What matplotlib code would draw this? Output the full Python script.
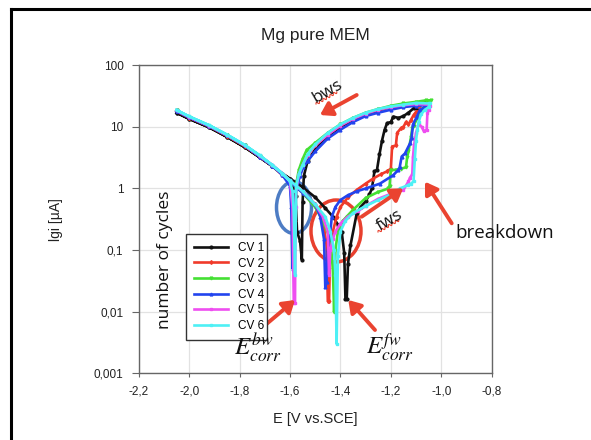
import numpy as np
import matplotlib
matplotlib.use('Agg')
import matplotlib.pyplot as plt
from matplotlib.patches import Ellipse
from matplotlib.lines import Line2D
from matplotlib.ticker import FixedLocator, FuncFormatter

plt.rcParams['font.family'] = ['Liberation Sans', 'DejaVu Sans']
plt.rcParams['mathtext.fontset'] = 'stix'

# potential [V vs. SCE] and |i| [uA], forward sweep then backward sweep
E_cv1 = [-2.05, -2.00, -1.92, -1.85, -1.78, -1.72, -1.67, -1.63, -1.60, -1.55, -1.50, -1.46, -1.43, -1.41,
         -1.395, -1.385, -1.38, -1.375, -1.37, -1.36, -1.335, -1.32, -1.30, -1.285, -1.275, -1.265, -1.255,
         -1.245, -1.235, -1.225, -1.215, -1.20, -1.19, -1.17, -1.15, -1.13, -1.11, -1.09, -1.07, -1.05,
         -1.06, -1.10, -1.15, -1.20, -1.25, -1.30, -1.35, -1.40, -1.45, -1.50, -1.53, -1.545, -1.55, -1.553,
         -1.56, -1.572, -1.578, -1.585, -1.60, -1.63, -1.67, -1.72, -1.78, -1.85, -1.92, -2.00, -2.05]
i_cv1 = [17, 13.5, 9.8, 6.9, 4.7, 3.2, 2.3, 1.75, 1.45, 1.05, 0.72, 0.48, 0.35, 0.26,
         0.2, 0.09, 0.016, 0.016, 0.06, 0.12, 0.4, 0.5, 0.62, 0.8, 1.0, 1.9, 2.0,
         3.6, 6.0, 8.9, 11.5, 12, 14.7, 14, 15, 17, 20, 19, 20, 23,
         25, 24.5, 23, 21, 18.5, 16, 13, 10, 7, 4.3, 2.8, 1.6, 0.6, 0.07,
         0.14, 0.2, 0.75, 1.0, 1.4, 1.75, 2.3, 3.2, 4.7, 6.9, 9.8, 13.5, 17]

E_cv2 = [-2.05, -2.00, -1.92, -1.85, -1.78, -1.72, -1.67, -1.63, -1.60, -1.55, -1.50, -1.47, -1.455, -1.45,
         -1.445, -1.44, -1.43, -1.415, -1.40, -1.37, -1.335, -1.30, -1.27, -1.24, -1.215, -1.20, -1.195,
         -1.18, -1.175, -1.16, -1.15, -1.14, -1.13, -1.12, -1.11, -1.10, -1.08,
         -1.09, -1.10, -1.15, -1.20, -1.25, -1.30, -1.35, -1.40, -1.45, -1.50, -1.53, -1.55, -1.565,
         -1.575, -1.58, -1.585, -1.59, -1.60, -1.63, -1.67, -1.72, -1.78, -1.85, -1.92, -2.00, -2.05]
i_cv2 = [18, 14.2, 10.2, 7.2, 4.9, 3.3, 2.35, 1.7, 1.3, 0.88, 0.55, 0.32, 0.12, 0.015,
         0.015, 0.12, 0.2, 0.35, 0.5, 0.72, 0.95, 1.2, 1.45, 1.7, 1.9, 2.1, 4.8,
         5.0, 8.0, 9.5, 10, 12, 11, 13, 15.5, 17.5, 18.5,
         22, 23, 22.5, 21, 19, 16.5, 13.5, 10.5, 7.5, 5.0, 3.5, 2.4, 1.7,
         1.1, 0.3, 0.15, 0.7, 1.25, 1.65, 2.3, 3.3, 4.9, 7.2, 10.2, 14.2, 18]

E_cv3 = [-2.05, -2.00, -1.92, -1.85, -1.78, -1.72, -1.67, -1.63, -1.60, -1.55, -1.50, -1.47, -1.44, -1.43,
         -1.425, -1.42, -1.41, -1.39, -1.375, -1.35, -1.30, -1.25, -1.21, -1.205, -1.20, -1.18, -1.16,
         -1.14, -1.135, -1.13, -1.12, -1.115, -1.11, -1.09, -1.07, -1.05, -1.04,
         -1.06, -1.10, -1.15, -1.20, -1.25, -1.30, -1.35, -1.40, -1.45, -1.50, -1.534, -1.55, -1.565,
         -1.575, -1.58, -1.585, -1.59, -1.60, -1.63, -1.67, -1.72, -1.78, -1.85, -1.92, -2.00, -2.05]
i_cv3 = [18.5, 14.5, 10.4, 7.3, 5.0, 3.35, 2.35, 1.7, 1.3, 0.85, 0.5, 0.3, 0.15, 0.05,
         0.01, 0.1, 0.2, 0.3, 0.35, 0.45, 0.7, 0.88, 1.0, 1.1, 2.0, 2.0, 2.1,
         2.2, 3.3, 4.0, 6.9, 9.5, 10.5, 15, 20, 25, 27,
         27, 25.5, 24, 22, 19.5, 17, 14, 11, 8, 5.5, 4.2, 3.0, 2.0,
         1.2, 0.5, 0.25, 0.6, 1.25, 1.7, 2.35, 3.35, 5.0, 7.3, 10.4, 14.5, 18.5]

E_cv4 = [-2.05, -2.00, -1.92, -1.85, -1.78, -1.72, -1.67, -1.63, -1.60, -1.55, -1.50, -1.48, -1.465, -1.46,
         -1.455, -1.45, -1.44, -1.434, -1.42, -1.40, -1.37, -1.335, -1.30, -1.243, -1.19, -1.171, -1.165,
         -1.157, -1.144, -1.124, -1.118, -1.112, -1.097, -1.084, -1.06, -1.05,
         -1.06, -1.10, -1.15, -1.20, -1.25, -1.30, -1.35, -1.40, -1.45, -1.50, -1.53, -1.548, -1.56,
         -1.575, -1.585, -1.59, -1.595, -1.60, -1.63, -1.67, -1.72, -1.78, -1.85, -1.92, -2.00, -2.05]
i_cv4 = [18.2, 14.3, 10.3, 7.3, 5.0, 3.3, 2.35, 1.7, 1.3, 0.85, 0.55, 0.35, 0.15, 0.025,
         0.03, 0.1, 0.2, 0.35, 0.5, 0.65, 0.78, 0.9, 1.0, 1.2, 1.65, 2.0, 2.2,
         3.3, 3.7, 5.4, 6.5, 11, 14.6, 19, 21, 22,
         22.5, 22, 21, 19, 17, 15, 12, 9, 6.5, 4.0, 2.8, 2.2, 1.6,
         1.0, 0.3, 0.05, 0.5, 1.1, 1.65, 2.35, 3.3, 5.0, 7.3, 10.3, 14.3, 18.2]

E_cv5 = [-2.05, -2.00, -1.92, -1.85, -1.78, -1.72, -1.67, -1.63, -1.60, -1.55, -1.50, -1.47, -1.45, -1.445,
         -1.44, -1.43, -1.42, -1.40, -1.37, -1.33, -1.30, -1.25, -1.20, -1.15, -1.13, -1.124, -1.115,
         -1.112, -1.108, -1.10, -1.09, -1.077, -1.07, -1.058, -1.055, -1.05, -1.044,
         -1.05, -1.10, -1.15, -1.20, -1.25, -1.30, -1.35, -1.40, -1.45, -1.50, -1.53, -1.55, -1.565,
         -1.575, -1.578, -1.58, -1.585, -1.59, -1.60, -1.63, -1.67, -1.72, -1.78, -1.85, -1.92, -2.00, -2.05]
i_cv5 = [18.6, 14.6, 10.5, 7.4, 5.05, 3.4, 2.4, 1.75, 1.35, 0.9, 0.55, 0.35, 0.2, 0.04,
         0.1, 0.15, 0.2, 0.27, 0.35, 0.43, 0.52, 0.68, 0.82, 0.95, 1.3, 1.5, 1.7,
         3.3, 5.0, 8.0, 11, 10, 8.6, 8.9, 16.7, 19, 22,
         23, 23.5, 22.5, 21, 19, 16.5, 13.5, 10.5, 7.5, 5.0, 3.5, 2.4, 1.7,
         1.0, 0.5, 0.014, 0.014, 0.5, 1.3, 1.75, 2.4, 3.4, 5.05, 7.4, 10.5, 14.6, 18.6]

E_cv6 = [-2.05, -2.00, -1.92, -1.85, -1.78, -1.72, -1.67, -1.63, -1.60, -1.55, -1.50, -1.46, -1.44, -1.425,
         -1.42, -1.415, -1.41, -1.40, -1.38, -1.35, -1.30, -1.25, -1.20, -1.164, -1.131, -1.12, -1.11,
         -1.105, -1.10, -1.095, -1.09, -1.08, -1.065, -1.05, -1.045,
         -1.05, -1.10, -1.15, -1.20, -1.25, -1.30, -1.35, -1.40, -1.45, -1.50, -1.53, -1.55, -1.565,
         -1.575, -1.58, -1.585, -1.59, -1.60, -1.63, -1.67, -1.72, -1.78, -1.85, -1.92, -2.00, -2.05]
i_cv6 = [18.8, 14.8, 10.6, 7.5, 5.1, 3.45, 2.4, 1.75, 1.35, 0.9, 0.55, 0.35, 0.2, 0.1,
         0.04, 0.003, 0.08, 0.2, 0.3, 0.4, 0.52, 0.65, 0.8, 1.0, 1.14, 1.2, 1.3,
         3.0, 6.0, 9.0, 12, 16, 19, 21, 24,
         24, 24.5, 23, 21.5, 19.5, 17, 14, 11, 8, 5.2, 3.6, 2.4, 1.7,
         1.1, 0.04, 0.4, 0.9, 1.3, 1.75, 2.4, 3.45, 5.1, 7.5, 10.6, 14.8, 18.8]

labels = ['CV 1', 'CV 2', 'CV 3', 'CV 4', 'CV 5', 'CV 6']
colors = ['#111111', '#f03a2a', '#44e033', '#2244ee', '#ee4ef0', '#4ef0f5']
markers = ['o', 'd', 'v', '^', 's', 's']
x_ticks = [-2.2, -2.0, -1.8, -1.6, -1.4, -1.2, -1.0, -0.8]
y_ticks = [0.001, 0.01, 0.1, 1, 10, 100]
y_ticklabels = ['0,001', '0,01', '0,1', '1', '10', '100']

curves = [(E_cv1, i_cv1), (E_cv2, i_cv2), (E_cv3, i_cv3),
          (E_cv4, i_cv4), (E_cv5, i_cv5), (E_cv6, i_cv6)]

fig = plt.figure(figsize=(5.91, 4.40), dpi=100)
ax = fig.add_axes([138.7 / 591, 1 - 373.3 / 440, 353 / 591, 308 / 440])

for (E, i), lab, col, mk in zip(curves, labels, colors, markers):
    ax.plot(E, i, color=col, lw=1.9, marker=mk, ms=2.0, label=lab)

ax.set_yscale('log')
ax.set_xlim(-2.2, -0.8)
ax.set_ylim(0.001, 100)
ax.xaxis.set_major_locator(FixedLocator(x_ticks))
ax.xaxis.set_major_formatter(FuncFormatter(lambda v, p: ('%.1f' % v).replace('.', ',')))
ax.yaxis.set_major_locator(FixedLocator(y_ticks))
ax.yaxis.set_minor_locator(FixedLocator([]))
ax.set_yticklabels(y_ticklabels)
ax.grid(True, color='#e2e2e2', lw=0.9)
ax.set_axisbelow(True)
for s in ax.spines.values():
    s.set_color('#666666')
    s.set_linewidth(1.0)
ax.tick_params(axis='y', length=5, width=0.8, color='#666666', labelsize=8.5, labelcolor='#222222', pad=6)
ax.tick_params(axis='x', length=3, width=0.8, color='#666666', labelsize=8.5, labelcolor='#222222', pad=6)

ax.set_title('Mg pure MEM', fontsize=12.5, pad=18, color='#222222')
ax.set_xlabel('E [V vs.SCE]', fontsize=10.5, labelpad=10, color='#222222')
ax.set_ylabel('lgi [µA]', fontsize=10, labelpad=22, color='#222222')

leg = ax.legend(loc='lower left', bbox_to_anchor=(0.117, 0.089, 0.263, 0.357), mode='expand',
                fontsize=8.5, handlelength=2.9, handletextpad=0.8, labelspacing=0.3,
                borderpad=0.7, fancybox=False, framealpha=1, edgecolor='#333333')
leg.get_frame().set_linewidth(1.0)

# circles around the corrosion potentials
ax.add_patch(Ellipse(((294 - 138.7) / 353, (373.3 - 207.5) / 308), 35 / 353, 52 / 308,
                     transform=ax.transAxes, fill=False, ec='#4d7cc4', lw=2.5))
ax.add_patch(Ellipse(((336 - 138.7) / 353, (373.3 - 231) / 308), 50 / 353, 62 / 308,
                     transform=ax.transAxes, fill=False, ec='#e8402e', lw=2.5))


def fp(x, y):
    return (x / 591, 1 - y / 440)


red = '#ea4330'
arrow = dict(arrowstyle='-|>,head_width=0.45,head_length=0.7', color=red, lw=2.8, shrinkA=0, shrinkB=0)
for start, end in [((356.7, 95), (320, 115)), ((361.7, 216.7), (403.3, 188.3)),
                   ((451.7, 223.3), (425, 181.7)), ((263.3, 326.7), (295, 300)),
                   ((375, 330), (348.3, 300))]:
    ax.annotate('', xy=fp(*end), xytext=fp(*start), xycoords='figure fraction',
                textcoords='figure fraction', arrowprops=arrow)

side = ['Open Sans', 'DejaVu Sans']
fig.text(*fp(328, 91), 'bws', rotation=30, ha='center', va='center', fontsize=12.5, family=side, color='#111111')
fig.text(*fp(390, 221), 'fws', rotation=30, ha='center', va='center', fontsize=12.5, family=side, color='#111111')
fig.text(*fp(505, 233), 'breakdown', ha='center', va='center', fontsize=13.5, family=side, color='#111111')
fig.text(*fp(165, 260), 'number of cycles', rotation=90, ha='center', va='center', fontsize=12.5,
         family=side, color='#111111')
fig.text(*fp(258, 348), r'$E_{corr}^{bw}$', ha='center', va='center', fontsize=18, color='#111111')
fig.text(*fp(390, 347), r'$E_{corr}^{fw}$', ha='center', va='center', fontsize=18, color='#111111')

# wavy underlines under bws / fws
t = np.linspace(0, 1, 60)
for x0, y0 in [(316, 104), (378, 232)]:
    dx = 24 * t * np.cos(np.radians(30))
    dy = 24 * t * np.sin(np.radians(30))
    wob = 1.2 * np.sin(2 * np.pi * 6 * t)
    xs = x0 + dx - wob * np.sin(np.radians(30))
    ys = y0 - dy - wob * np.cos(np.radians(30))
    fig.add_artist(Line2D(xs / 591, 1 - ys / 440, color=red, lw=0.8))

# figure frame, cut by the right and bottom edges
fig.add_artist(Line2D([10.5 / 591, 10.5 / 591], [1 - 9.5 / 440, -0.05], color='black', lw=2.2))
fig.add_artist(Line2D([10.5 / 591, 1.0], [1 - 9.5 / 440, 1 - 9.5 / 440], color='black', lw=2.2))

fig.savefig('out.png', dpi=100)
